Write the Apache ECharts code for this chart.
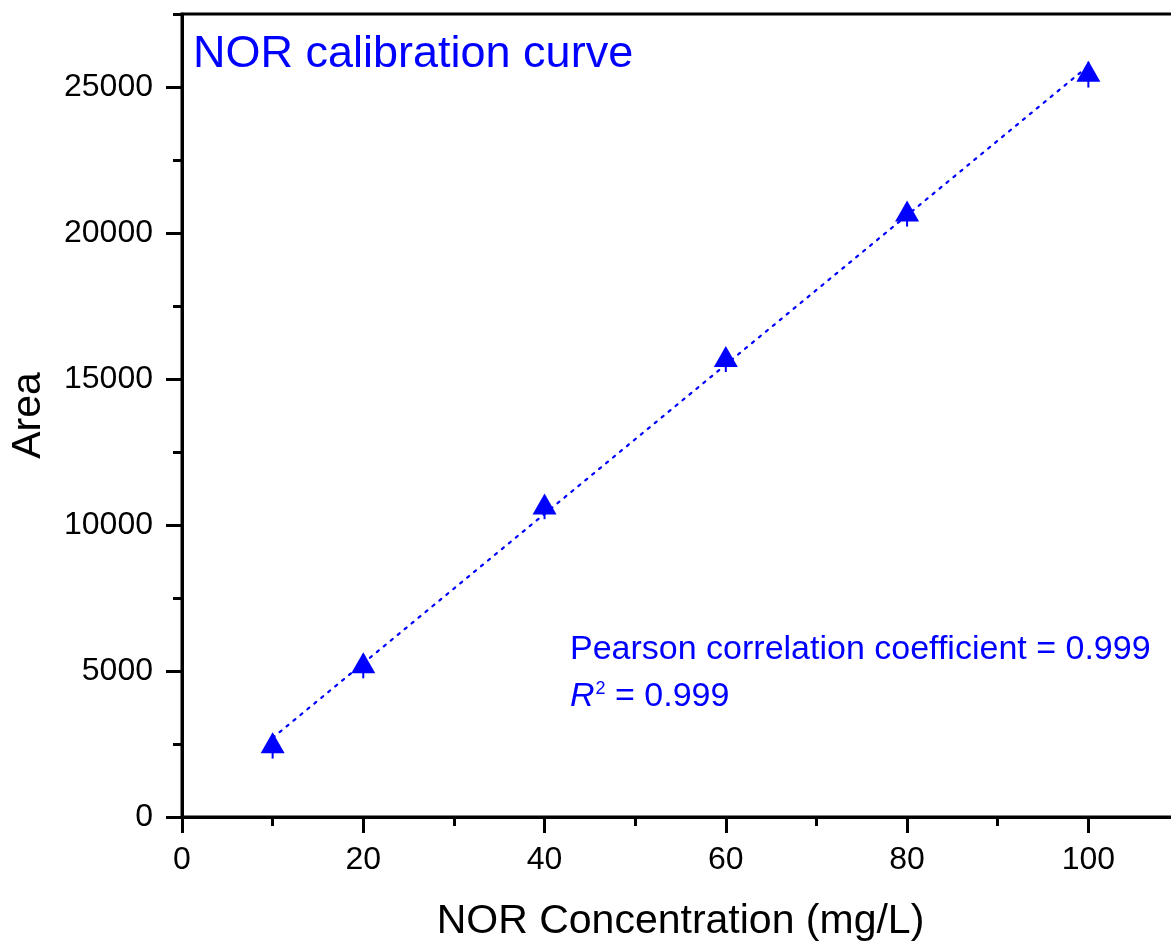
<!DOCTYPE html>
<html>
<head>
<meta charset="utf-8">
<script src="https://cdn.jsdelivr.net/npm/echarts@6/dist/echarts.min.js"></script>
<style>
  html, body { margin: 0; padding: 0; background: #fff; }
  #chart { width: 1171px; height: 942px; }
</style>
</head>
<body>
<div id="chart"></div>
<script>
// ---- data ----
const concentrations = [10, 20, 40, 60, 80, 100];
const areas = [2420, 5160, 10600, 15650, 20630, 25420];
const areaErrors = [420, 410, 400, 410, 410, 440];
const fitX = [10, 100];
const fitY = [2710, 25720];
const xMajorTicks = [0, 20, 40, 60, 80, 100];
const xMinorTicks = [10, 30, 50, 70, 90];
const yMajorTicks = [0, 5000, 10000, 15000, 20000, 25000];
const yMinorTicks = [2500, 7500, 12500, 17500, 22500, 27500];
const titleText = 'NOR calibration curve';
const xName = 'NOR Concentration (mg/L)';
const yName = 'Area';
const pearsonText = 'Pearson correlation coefficient = 0.999';
const r2Value = '0.999';

const FONT = '"Liberation Sans", Arial, Helvetica, sans-serif';
const BLUE = '#0000FF';

const points = concentrations.map((x, i) => [x, areas[i]]);
const errData = concentrations.map((x, i) => [x, areas[i] - areaErrors[i], areas[i] + areaErrors[i]]);
const fitData = fitX.map((x, i) => [x, fitY[i]]);

const chart = echarts.init(document.getElementById('chart'), null, { renderer: 'canvas' });

const axisCommon = {
  type: 'value',
  splitLine: { show: false },
};
const plain = v => String(v);

chart.setOption({
  backgroundColor: '#fff',
  animation: false,
  grid: {
    left: 182, top: 14, right: -8, bottom: 125,
    outerBoundsMode: 'none', containLabel: false,
    show: true, borderColor: '#000', borderWidth: 3, backgroundColor: 'transparent'
  },
  xAxis: [
    Object.assign({}, axisCommon, {
      min: 0, max: 110, position: 'bottom',
      name: xName, nameLocation: 'middle', nameGap: 84,
      nameTextStyle: { fontFamily: FONT, fontSize: 41, color: '#000' },
      axisLine: { show: true, onZero: false, lineStyle: { color: '#000', width: 3 } },
      axisTick: { show: true, inside: false, length: 16, customValues: xMajorTicks, lineStyle: { color: '#000', width: 3 } },
      axisLabel: { show: true, customValues: xMajorTicks, formatter: plain, margin: 27, fontFamily: FONT, fontSize: 32, color: '#000' }
    }),
    Object.assign({}, axisCommon, {
      min: 0, max: 110, position: 'bottom',
      axisLine: { show: false, onZero: false },
      axisTick: { show: true, inside: false, length: 9, customValues: xMinorTicks, lineStyle: { color: '#000', width: 3 } },
      axisLabel: { show: false }
    })
  ],
  yAxis: [
    Object.assign({}, axisCommon, {
      min: 0, max: 27500, position: 'left',
      name: yName, nameLocation: 'middle', nameGap: 133, nameRotate: 90,
      nameTextStyle: { fontFamily: FONT, fontSize: 41, color: '#000' },
      axisLine: { show: true, onZero: false, lineStyle: { color: '#000', width: 3 } },
      axisTick: { show: true, inside: false, length: 16, customValues: yMajorTicks, lineStyle: { color: '#000', width: 3 } },
      axisLabel: { show: true, customValues: yMajorTicks, formatter: plain, margin: 29, fontFamily: FONT, fontSize: 32, color: '#000' }
    }),
    Object.assign({}, axisCommon, {
      min: 0, max: 27500, position: 'left',
      axisLine: { show: false, onZero: false },
      axisTick: { show: true, inside: false, length: 9, customValues: yMinorTicks, lineStyle: { color: '#000', width: 3 } },
      axisLabel: { show: false }
    })
  ],
  graphic: [
    {
      type: 'text', left: 193, top: 32, silent: true,
      style: { text: titleText, fill: BLUE, font: '45px ' + FONT }
    },
    {
      type: 'text', left: 570, top: 633, silent: true,
      style: { text: pearsonText, fill: BLUE, font: '34px ' + FONT }
    },
    {
      type: 'text', left: 570, top: 680, silent: true,
      style: {
        text: '{i|R}{s|2}{n| = ' + r2Value + '}',
        fill: BLUE,
        rich: {
          i: { fontFamily: FONT, fontSize: 34, fontStyle: 'italic', fill: BLUE, color: BLUE },
          s: { fontFamily: FONT, fontSize: 18, fill: BLUE, color: BLUE, verticalAlign: 'top', padding: [0, 0, 16, 1] },
          n: { fontFamily: FONT, fontSize: 34, fill: BLUE, color: BLUE }
        }
      }
    }
  ],
  series: [
    {
      type: 'line', xAxisIndex: 0, yAxisIndex: 0,
      data: fitData, symbol: 'none', z: 2,
      lineStyle: { color: BLUE, width: 2.2, type: [2.5, 6.5], cap: 'round' }
    },
    {
      type: 'custom', xAxisIndex: 0, yAxisIndex: 0, z: 3,
      data: errData,
      renderItem: function (params, api) {
        const x = api.value(0);
        const lo = api.coord([x, api.value(1)]);
        const hi = api.coord([x, api.value(2)]);
        return {
          type: 'line',
          shape: { x1: lo[0], y1: lo[1], x2: hi[0], y2: hi[1] },
          style: { stroke: BLUE, lineWidth: 2 }
        };
      }
    },
    {
      type: 'scatter', xAxisIndex: 0, yAxisIndex: 0, z: 4,
      data: points, symbol: 'triangle', symbolSize: [24, 21], symbolOffset: [0, -3.5],
      itemStyle: { color: BLUE, opacity: 1 }
    }
  ]
});
</script>
</body>
</html>
